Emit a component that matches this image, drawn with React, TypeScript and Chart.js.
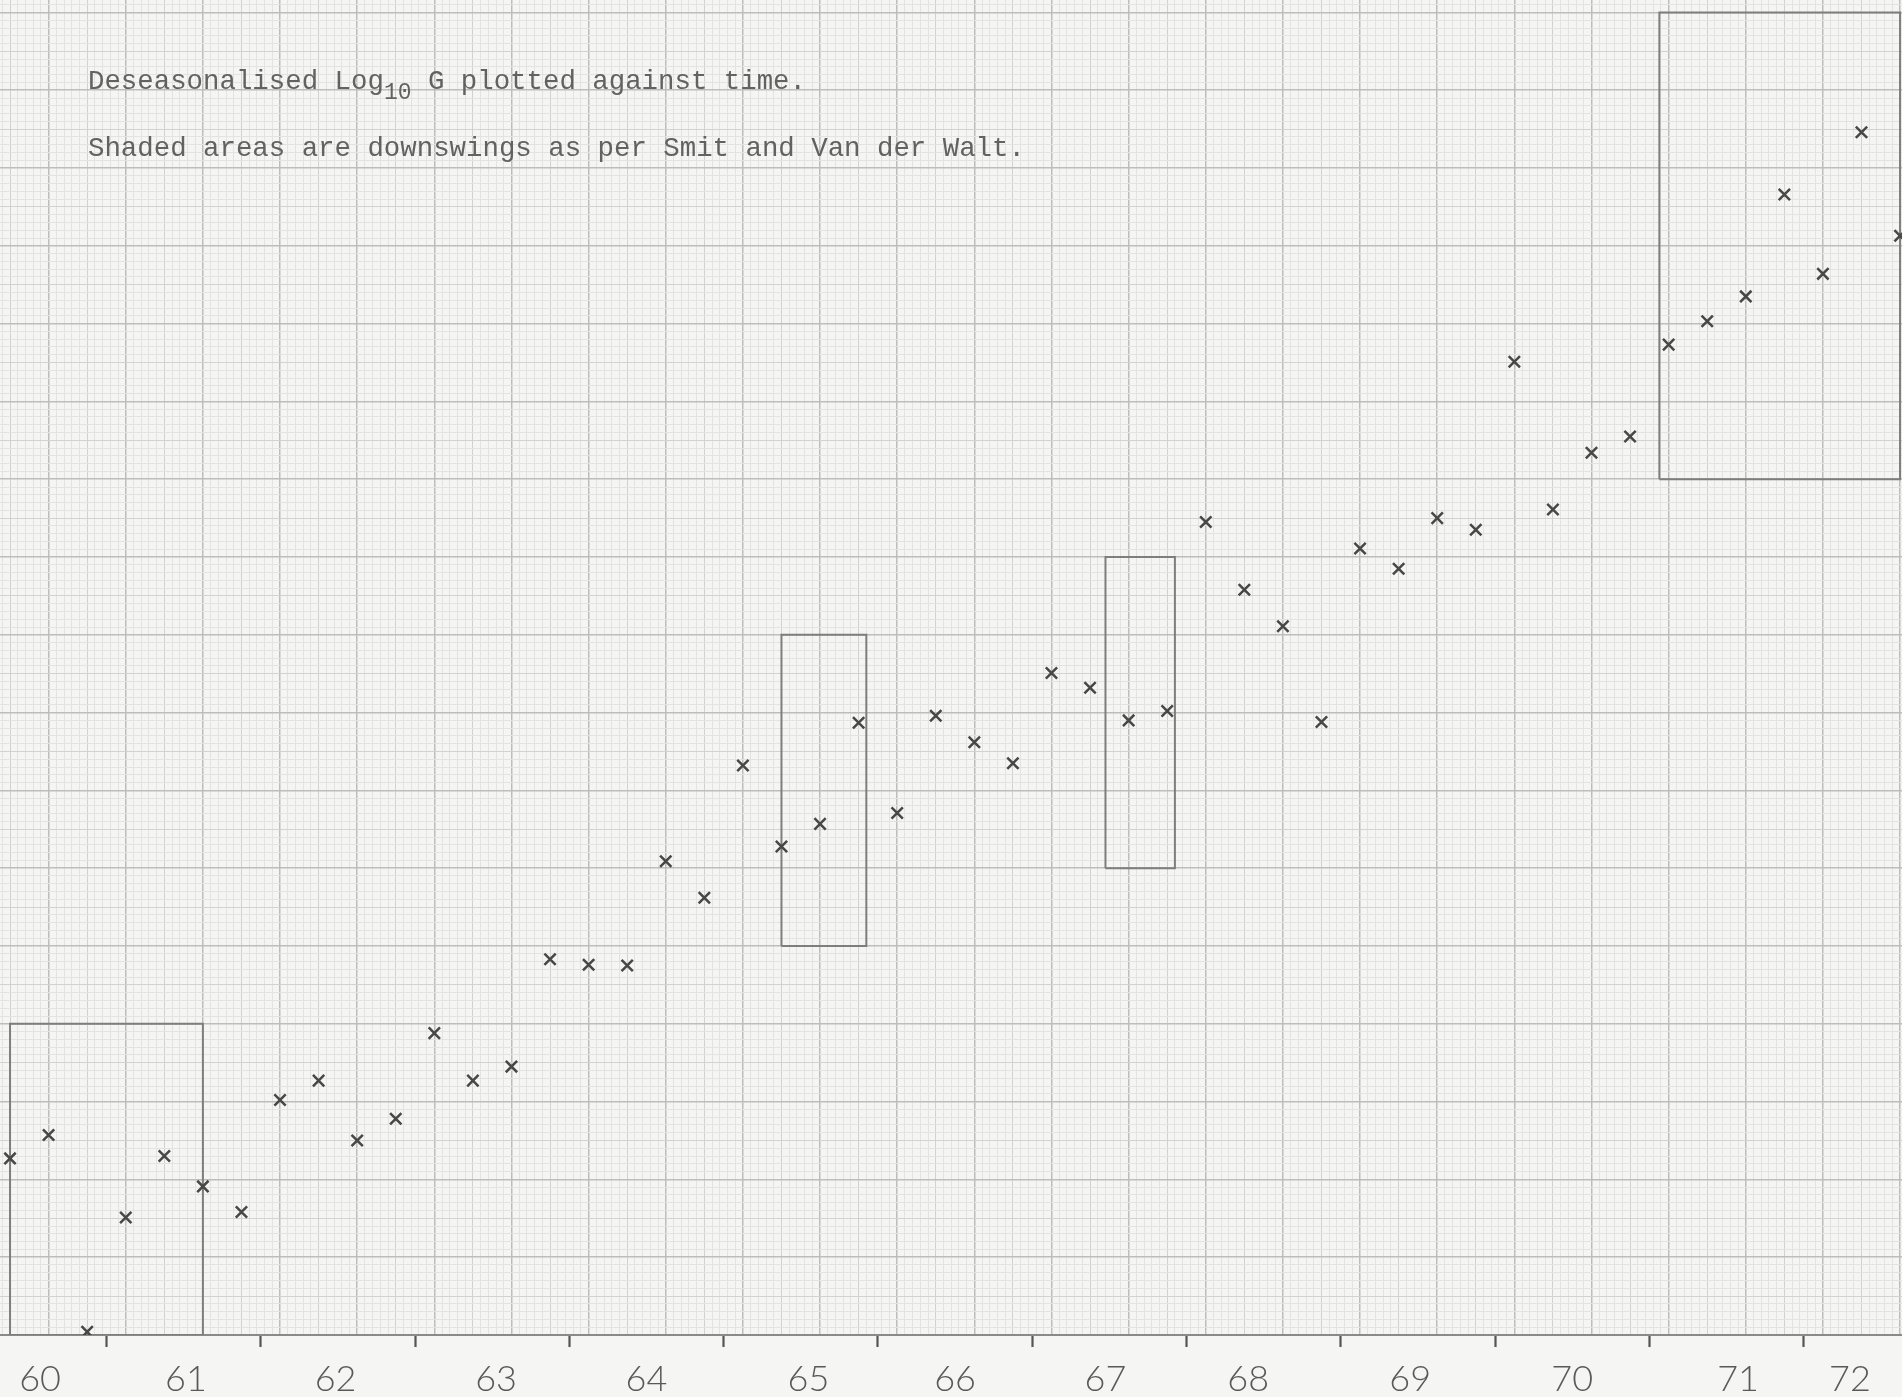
import React, { useEffect, useRef } from "react";
import { Chart, registerables } from "chart.js";

Chart.register(...registerables);

// Quarterly series starting 1960 Q1 (x = year, step 0.25)
const START_YEAR = 1960;
// Deseasonalised log10 G (mm above the base line)
const logG = [
  22.7, 25.7, 0.4, 15.1, 23.0, 19.1, 15.8, 30.2, 32.7, 25.0,
  27.8, 38.8, 32.7, 34.5, 48.3, 47.6, 47.5, 60.9, 56.2, 73.2,
  62.8, 65.7, 78.7, 67.1, 79.6, 76.2, 73.5, 85.1, 83.2, 79.0,
  80.2, 104.5, 95.8, 91.1, 78.8, 101.1, 98.5, 105.0, 103.5, 125.1,
  106.1, 113.4, 115.5, 127.3, 130.3, 133.5, 146.6, 136.4, 154.6, 141.3,
];
const quarterX = logG.map((_, i) => START_YEAR + i * 0.25);

// Downswings (Smit and Van der Walt) boxes
const downswingStart = [1960.0, 1965.0, 1967.1, 1970.69];
const downswingEnd = [1961.25, 1965.55, 1967.55, 1972.25];
const downswingLow = [0, 50, 60, 110];
const downswingHigh = [40, 90, 100, 170];

// Axis text
const yearLabels = ["60", "61", "62", "63", "64", "65", "66", "67", "68", "69", "70", "71", "72"];
const yearLabelAt = [1960.195, 1961.14, 1962.11, 1963.15, 1964.125, 1965.175, 1966.125, 1967.1, 1968.025, 1969.075, 1970.125, 1971.2, 1971.925];
const yearTickAt = [1960.625, 1961.625, 1962.625, 1963.625, 1964.625, 1965.625, 1966.625, 1967.625, 1968.625, 1969.625, 1970.625, 1971.625];

const X_MIN = 1959.935;
const X_MAX = 1972.2625;
const Y_MIN = 0;
const Y_MAX = 171.6;

const CM = "#bdbdbd";
const MID = "#d2d2d2";
const FINE = "#e3e3e3";

export default function App() {
  const ref = useRef<HTMLCanvasElement | null>(null);

  useEffect(() => {
    if (!ref.current) return;
    const points = {
      type: "scatter",
      label: "Log10 G",
      data: logG.map((v, i) => ({ x: quarterX[i], y: v })),
      pointStyle: "crossRot",
      pointRadius: 8,
      pointBorderWidth: 2.5,
      borderColor: "#474747",
      backgroundColor: "rgba(0,0,0,0)",
      showLine: false,
      xAxisID: "x",
      yAxisID: "y",
      order: 0,
    };
    const boxes = downswingStart.map((x0, j) => {
      const x1 = downswingEnd[j];
      const lo = downswingLow[j];
      const hi = downswingHigh[j];
      return {
        type: "line",
        label: "downswing " + (j + 1),
        data: [
          { x: x0, y: lo },
          { x: x1, y: lo },
          { x: x1, y: hi },
          { x: x0, y: hi },
          { x: x0, y: lo },
        ],
        borderColor: "#7e7e7e",
        borderWidth: 2,
        pointRadius: 0,
        fill: false,
        tension: 0,
        showLine: true,
        xAxisID: "x",
        yAxisID: "y",
        order: 1,
      };
    });

    const chart = new Chart(ref.current, {
      type: "scatter",
      data: { datasets: [points, ...boxes] as any },
      options: {
        responsive: false,
        animation: false,
        devicePixelRatio: 1,
        layout: { padding: 0, autoPadding: false },
        plugins: {
          legend: { display: false },
          tooltip: { enabled: false },
          title: { display: false },
        },
        scales: {
          x: {
            type: "linear",
            position: "bottom",
            min: X_MIN,
            max: X_MAX,
            afterBuildTicks: (scale: any) => {
              const t = [];
              const k0 = Math.ceil((X_MIN - START_YEAR) / 0.05 - 1e-9);
              const k1 = Math.floor((X_MAX - START_YEAR) / 0.05 + 1e-9);
              for (let k = k0; k <= k1; k++) t.push({ value: START_YEAR + k * 0.05 });
              scale.ticks = t;
            },
            afterFit: (scale: any) => {
              scale.height = 0;
            },
            ticks: { display: false, autoSkip: false },
            grid: {
              drawTicks: false,
              color: (ctx: any) => {
                const k = Math.round((ctx.tick.value - START_YEAR) / 0.05);
                const m = ((k % 10) + 10) % 10;
                if (m === 5) return CM;
                if (m === 0) return MID;
                return FINE;
              },
              lineWidth: (ctx: any) => {
                const k = Math.round((ctx.tick.value - START_YEAR) / 0.05);
                const m = ((k % 10) + 10) % 10;
                if (m === 5) return 1.5;
                return 1;
              },
            },
            border: { display: true, color: "#8a8a8a", width: 2 },
          },
          xt: {
            type: "linear",
            position: "bottom",
            min: X_MIN,
            max: X_MAX,
            afterBuildTicks: (scale: any) => {
              scale.ticks = yearTickAt.map((v) => ({ value: v }));
            },
            afterFit: (scale: any) => {
              scale.height = 14;
            },
            ticks: { display: false, autoSkip: false },
            grid: {
              drawOnChartArea: false,
              drawTicks: true,
              tickLength: 12,
              tickColor: "#555555",
              tickWidth: 2.2,
            },
            border: { display: false },
          },
          xl: {
            type: "linear",
            position: "bottom",
            min: X_MIN,
            max: X_MAX,
            afterBuildTicks: (scale: any) => {
              scale.ticks = yearLabelAt.map((v) => ({ value: v }));
            },
            afterFit: (scale: any) => {
              scale.height = 48;
            },
            ticks: {
              display: true,
              autoSkip: false,
              maxRotation: 0,
              minRotation: 0,
              padding: 9,
              color: "#595959",
              font: { family: "Lato, 'DejaVu Sans', sans-serif", size: 36, weight: "300" },
              callback: (_v: any, i: number) => yearLabels[i],
            },
            grid: { display: false, drawTicks: false },
            border: { display: false },
          },
          y: {
            type: "linear",
            position: "left",
            min: Y_MIN,
            max: Y_MAX,
            afterBuildTicks: (scale: any) => {
              const t = [];
              for (let k = 0; k <= Math.floor(Y_MAX); k++) t.push({ value: k });
              scale.ticks = t;
            },
            afterFit: (scale: any) => {
              scale.width = 0;
            },
            ticks: { display: false, autoSkip: false },
            grid: {
              drawTicks: false,
              color: (ctx: any) => {
                const k = Math.round(ctx.tick.value);
                if (k % 10 === 0) return CM;
                if (k % 5 === 0) return MID;
                return FINE;
              },
              lineWidth: (ctx: any) => {
                const k = Math.round(ctx.tick.value);
                return k % 10 === 0 ? 1.5 : 1;
              },
            },
            border: { display: false },
          },
        },
      } as any,
    });
    return () => chart.destroy();
  }, []);

  const textStyle: React.CSSProperties = {
    position: "absolute",
    left: 88,
    fontFamily: "'Liberation Mono', 'DejaVu Sans Mono', monospace",
    fontSize: 27.4,
    lineHeight: "27px",
    color: "#626262",
    whiteSpace: "pre",
  };

  return (
    <div
      style={{
        position: "fixed",
        left: 0,
        top: 0,
        width: 1902,
        height: 1397,
        overflow: "hidden",
        background: "#f5f5f4",
      }}
    >
      <canvas ref={ref} width={1902} height={1397} style={{ display: "block", width: 1902, height: 1397 }} />
      <div style={{ ...textStyle, top: 68 }}>
        Deseasonalised Log
        <span style={{ fontSize: 23, position: "relative", top: 10 }}>10</span> G plotted against time.
      </div>
      <div style={{ ...textStyle, top: 135 }}>Shaded areas are downswings as per Smit and Van der Walt.</div>
    </div>
  );
}
